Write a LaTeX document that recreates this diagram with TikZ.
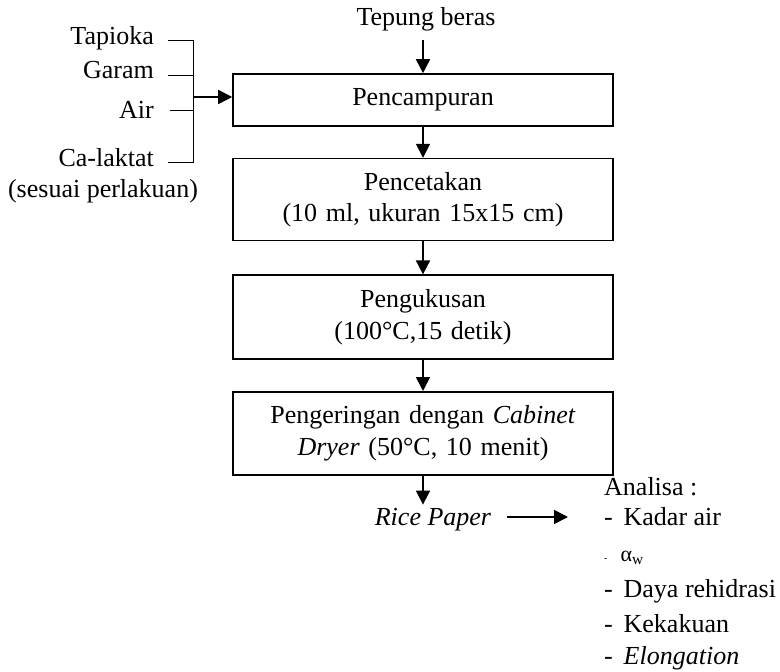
\documentclass[tikz,border=0pt]{standalone}
\usepackage{fontspec}
\setmainfont{Liberation Serif}
\usetikzlibrary{arrows.meta, positioning}
\tikzstyle{process}    = [rectangle, minimum width=380pt, minimum height=83pt, text width=370pt,
                          align=center, draw=black, line width=1.6pt, inner sep=0pt]
\tikzstyle{ingredient} = [anchor=base east, inner sep=0pt]
\tikzstyle{analysis}   = [anchor=base west, inner sep=0pt]
\tikzstyle{arrow}      = [-{Triangle[length=14pt,width=14pt]}, line width=1.7pt]
\tikzstyle{feed}       = [line width=1pt]

\begin{document}
\begin{tikzpicture}[x=1pt, y=1pt, node distance=31pt, font=\fontsize{26pt}{31.5pt}\selectfont]
    \useasboundingbox (0,0) rectangle (780,-672);

    % main line
    \node (tepung) [anchor=base, inner sep=0pt] at (426,-25) {Tepung beras};
    \node (mix) [process, minimum height=52pt] at (423,-100) {Pencampuran};
    \node (mould) [process, minimum height=82pt, below=of mix] {Pencetakan\\(10 ml, ukuran 15x15 cm)};
    \node (steam) [process, minimum height=84pt, below=33pt of mould] {Pengukusan\\(100°C,15 detik)};
    \node (dry) [process, below=of steam] {Pengeringan dengan \textit{Cabinet}\\\textit{Dryer} (50°C, 10 menit)};
    \node (rice) [anchor=base, inner sep=3pt] at (433,-525) {\textit{Rice Paper}};

    % ingredients
    \node (tapioka) [ingredient] at (154,-44) {Tapioka};
    \node (garam) [ingredient] at (154,-78) {Garam};
    \node (air) [ingredient] at (154,-118) {Air};
    \node (calaktat) [ingredient] at (154,-166) {Ca-laktat};
    \node (sesuai) [anchor=base, inner sep=0pt] at (103,-197) {(sesuai perlakuan)};
    \coordinate (brktop) at (193,-40);
    \coordinate (brkbot) at (193,-162);
    \coordinate (brkout) at (193,-97);

    % analyses
    \node (analisa) [analysis] at (604,-495) {Analisa :};
    \node (kadar) [analysis] at (604,-525) {- \,Kadar air};
    \node (aw) [analysis] at (604,-561) {{\fontsize{10pt}{12pt}\selectfont -}\hspace{13pt}{\fontsize{22pt}{26pt}\selectfont α\textsubscript{w}}};
    \node (daya) [analysis] at (604,-597) {- \,Daya rehidrasi};
    \node (kaku) [analysis] at (604,-632) {- \,Kekakuan};
    \node (elong) [analysis] at (604,-664) {- \,\textit{Elongation}};
    \coordinate (toanalisa) at (568,-517);

    \draw[feed] ([xshift=14pt,yshift=4pt]tapioka.base east) -- (brktop) -- (brkbot) -- ([xshift=14pt,yshift=4pt]calaktat.base east);
    \draw[feed] ([xshift=14pt,yshift=3pt]garam.base east) -- ([yshift=3pt]garam.base east -| brktop);
    \draw[feed] ([xshift=16pt,yshift=8pt]air.base east) -- ([yshift=8pt]air.base east -| brktop);
    \draw[arrow] (brkout) -- (brkout -| mix.west);

    \draw[arrow] ([yshift=33pt]mix.north) -- (mix.north);
    \draw[arrow] (mix) -- (mould);
    \draw[arrow] (mould) -- (steam);
    \draw[arrow] (steam) -- (dry);
    \draw[arrow] (dry) -- (dry.south |- rice.north);
    \draw[arrow] ([xshift=13pt]rice.east |- toanalisa) -- (toanalisa);
\end{tikzpicture}
\end{document}
